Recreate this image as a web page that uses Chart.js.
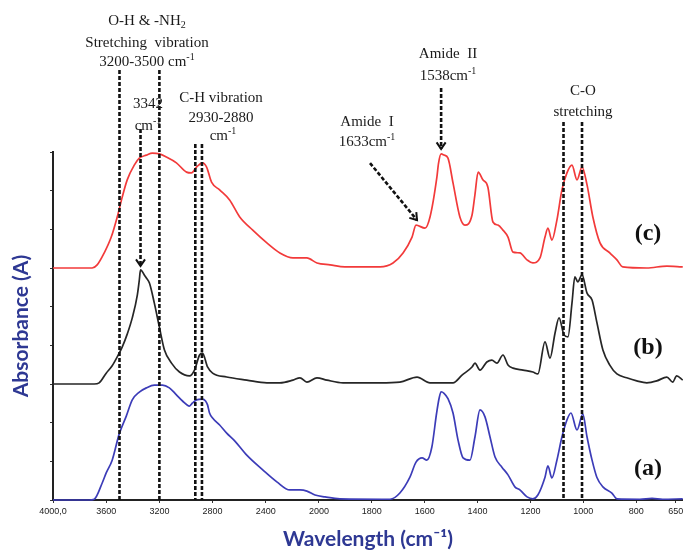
<!DOCTYPE html>
<html>
<head>
<meta charset="utf-8">
<title>FTIR spectra</title>
<style>
  html, body { margin: 0; padding: 0; background: #fff; }
  #wrap { width: 683px; height: 555px; position: relative; }
</style>
<script src="https://cdn.jsdelivr.net/npm/chart.js@4.4.1/dist/chart.umd.min.js"></script>
</head>
<body>
<div id="wrap"><canvas id="ftir" width="683" height="555"></canvas></div>
<script>
// ---- Spectra (wavenumber in cm-1, absorbance relative to each trace's own baseline) ----
const aWavenumber = [4000,3730,3690,3630,3600,3555,3502,3449,3404,3351,3298,3238,3177,3125,3072,3026,2974,2951,2921,2876,2853,2838,2823,2800,2747,2694,2634,2543,2423,2317,2219,2143,2091,2030,1977,1921,1731,1694,1656,1633,1610,1592,1573,1555,1545,1538,1527,1512,1493,1474,1455,1429,1410,1391,1372,1353,1334,1308,1285,1259,1240,1213,1191,1172,1145,1134,1119,1100,1081,1062,1047,1024,1002,986,967,949,926,892,873,786,740,700,624];
const aAbsorbance = [0,0,0.002,0.044,0.070,0.103,0.171,0.217,0.259,0.279,0.290,0.297,0.297,0.290,0.272,0.256,0.243,0.251,0.259,0.261,0.256,0.246,0.225,0.212,0.194,0.173,0.153,0.116,0.078,0.047,0.026,0.026,0.023,0.013,0.008,0.003,0.002,0.018,0.059,0.098,0.109,0.103,0.137,0.225,0.265,0.280,0.276,0.262,0.225,0.155,0.109,0.103,0.163,0.233,0.215,0.163,0.111,0.085,0.065,0.034,0.026,0.008,0.003,0.013,0.059,0.088,0.057,0.103,0.163,0.207,0.225,0.181,0.222,0.163,0.103,0.059,0.034,0.018,0.003,0.002,0.004,0.002,0.003];

const bWavenumber = [4000,3690,3653,3600,3555,3517,3479,3442,3404,3366,3351,3342,3310,3298,3275,3238,3200,3162,3109,3049,2974,2936,2898,2876,2838,2800,2694,2543,2392,2294,2196,2143,2091,2015,1970,1909,1769,1694,1629,1580,1493,1459,1421,1410,1391,1365,1346,1327,1304,1285,1266,1228,1191,1172,1145,1126,1107,1092,1073,1058,1043,1032,1021,1005,986,967,949,926,900,873,836,798,760,722,684,662,647,624];
const bAbsorbance = [0,0,0.003,0.028,0.047,0.070,0.096,0.129,0.171,0.230,0.269,0.295,0.280,0.274,0.261,0.209,0.147,0.088,0.054,0.031,0.021,0.036,0.075,0.080,0.044,0.028,0.018,0.010,0.003,0.003,0.010,0.016,0.005,0.016,0.010,0.003,0.003,0.005,0.018,0.003,0.003,0.023,0.044,0.054,0.036,0.057,0.062,0.054,0.075,0.049,0.041,0.036,0.031,0.026,0.109,0.067,0.132,0.171,0.127,0.122,0.209,0.277,0.264,0.282,0.235,0.217,0.160,0.088,0.049,0.026,0.016,0.008,0.003,0.008,0.018,0.005,0.021,0.010];

const cWavenumber = [4000,3706,3668,3615,3562,3517,3479,3442,3389,3351,3298,3253,3200,3147,3072,2996,2959,2921,2876,2845,2808,2747,2672,2596,2498,2392,2294,2196,2091,2015,1958,1902,1769,1720,1682,1648,1633,1599,1580,1554,1548,1538,1527,1512,1493,1467,1448,1421,1410,1398,1380,1361,1342,1323,1304,1285,1266,1240,1213,1191,1164,1145,1134,1119,1100,1081,1062,1043,1024,1005,986,964,937,900,873,851,760,684,635,624];
const cAbsorbance = [0,0,0.008,0.039,0.080,0.132,0.184,0.228,0.266,0.284,0.292,0.297,0.295,0.287,0.272,0.248,0.246,0.261,0.272,0.261,0.222,0.202,0.176,0.132,0.098,0.065,0.039,0.026,0.026,0.013,0.008,0.003,0.003,0.013,0.039,0.080,0.111,0.103,0.132,0.235,0.270,0.295,0.292,0.284,0.220,0.132,0.111,0.137,0.190,0.248,0.228,0.209,0.119,0.111,0.098,0.080,0.041,0.039,0.021,0.013,0.026,0.080,0.103,0.072,0.124,0.202,0.246,0.266,0.228,0.261,0.215,0.132,0.065,0.039,0.021,0.003,0,0.005,0.003,0.003];

// Vertical stacking of the three traces and their names
const traceNames = ['(a)', '(b)', '(c)'];
const traceOffsets = [0, 0.3, 0.6];
const traceColors = ['#3c3cb8', '#262626', '#f23a3a'];

// Axis ticks
const xTickValues = [4000, 3600, 3200, 2800, 2400, 2000, 1800, 1600, 1400, 1200, 1000, 800, 650];
const yTickStep = 0.1;

// Band markers (cm-1)
const ohRange = [3500, 3200];
const chRange = [2930, 2880];
const coLines = [1075, 1005];
const ohPeak = 3342;
const amideI = 1633;
const amideII = 1538;

// ---- Wavenumber axis with the usual FTIR scale change at 2000 cm-1 ----
const X_MAX = 4000, X_BREAK = 2000, X_MIN = 623, BREAK_FRAC = 0.4222;
function wnToDecimal(v) {
  if (v >= X_BREAK) return (X_MAX - v) / (X_MAX - X_BREAK) * BREAK_FRAC;
  return BREAK_FRAC + (X_BREAK - v) / (X_BREAK - X_MIN) * (1 - BREAK_FRAC);
}
function decimalToWn(d) {
  if (d <= BREAK_FRAC) return X_MAX - d / BREAK_FRAC * (X_MAX - X_BREAK);
  return X_BREAK - (d - BREAK_FRAC) / (1 - BREAK_FRAC) * (X_BREAK - X_MIN);
}
class WavenumberScale extends Chart.LinearScale {
  static id = 'wavenumber';
  static defaults = Chart.LinearScale.defaults;
  getPixelForValue(v) {
    return v === null || v === undefined ? NaN : this.getPixelForDecimal(wnToDecimal(v));
  }
  getValueForPixel(p) {
    return decimalToWn(this.getDecimalForPixel(p));
  }
  getPadding() {
    return { left: 0, right: 0, top: 0, bottom: 0 };
  }
}
Chart.register(WavenumberScale);

function toPoints(wn, abs, offset) {
  return wn.map((w, i) => ({ x: w, y: abs[i] + offset }));
}
const series = [
  [aWavenumber, aAbsorbance],
  [bWavenumber, bAbsorbance],
  [cWavenumber, cAbsorbance]
];
const datasets = series.map(([wn, abs], i) => ({
  label: traceNames[i],
  data: toPoints(wn, abs, traceOffsets[i]),
  borderColor: traceColors[i],
  borderWidth: 1.7,
  pointRadius: 0,
  fill: false,
  cubicInterpolationMode: 'monotone',
  clip: false
}));

// ---- Text helpers for the band labels ----
const SERIF = '"Liberation Serif", "Times New Roman", serif';
function drawRuns(ctx, runs, cx, baseline, size, weight) {
  const fontFor = (k) => `${weight || 'normal'} ${k ? Math.round(size * 0.66) : size}px ${SERIF}`;
  let total = 0;
  runs.forEach(([t, k]) => { ctx.font = fontFor(k); total += ctx.measureText(t).width; });
  let x = cx - total / 2;
  ctx.textAlign = 'left';
  ctx.textBaseline = 'alphabetic';
  runs.forEach(([t, k]) => {
    ctx.font = fontFor(k);
    const dy = k === 'sup' ? -size * 0.4 : (k === 'sub' ? size * 0.22 : 0);
    ctx.fillText(t, x, baseline + dy);
    x += ctx.measureText(t).width;
  });
}
function dashedLine(ctx, x1, y1, x2, y2) {
  ctx.save();
  ctx.strokeStyle = '#111';
  ctx.lineWidth = 2.6;
  ctx.setLineDash([4, 2]);
  ctx.beginPath();
  ctx.moveTo(x1, y1);
  ctx.lineTo(x2, y2);
  ctx.stroke();
  ctx.restore();
}
function arrowHead(ctx, x1, y1, x2, y2) {
  const ang = Math.atan2(y2 - y1, x2 - x1);
  const len = 8, spread = 0.6;
  ctx.save();
  ctx.strokeStyle = '#111';
  ctx.lineWidth = 2;
  ctx.setLineDash([]);
  ctx.beginPath();
  ctx.moveTo(x2 - len * Math.cos(ang - spread), y2 - len * Math.sin(ang - spread));
  ctx.lineTo(x2, y2);
  ctx.lineTo(x2 - len * Math.cos(ang + spread), y2 - len * Math.sin(ang + spread));
  ctx.stroke();
  ctx.restore();
}

const bandMarkers = {
  id: 'bandMarkers',
  afterDatasetsDraw(chart) {
    const { ctx, scales: { x, y } } = chart;
    const bottom = y.getPixelForValue(0);
    ctx.save();

    // dashed band boundaries
    ohRange.forEach(w => dashedLine(ctx, x.getPixelForValue(w), 70, x.getPixelForValue(w), bottom));
    chRange.forEach(w => dashedLine(ctx, x.getPixelForValue(w), 144, x.getPixelForValue(w), bottom));
    coLines.forEach(w => dashedLine(ctx, x.getPixelForValue(w), 122, x.getPixelForValue(w), bottom));

    // O-H peak arrow onto trace (b)
    const ohX = x.getPixelForValue(ohPeak);
    const ohTip = y.getPixelForValue(traceOffsets[1] + 0.295) - 4;
    dashedLine(ctx, ohX, 129, ohX, ohTip);
    arrowHead(ctx, ohX, 129, ohX, ohTip);

    // Amide II arrow onto trace (c)
    const a2X = x.getPixelForValue(amideII);
    const a2Tip = y.getPixelForValue(traceOffsets[2] + 0.295) - 5;
    dashedLine(ctx, a2X, 88, a2X, a2Tip);
    arrowHead(ctx, a2X, 88, a2X, a2Tip);

    // Amide I oblique arrow onto the shoulder of trace (c)
    const a1X = x.getPixelForValue(amideI) + 1;
    const a1Y = y.getPixelForValue(traceOffsets[2] + 0.111) - 5;
    dashedLine(ctx, a1X - 47, a1Y - 57, a1X, a1Y);
    arrowHead(ctx, a1X - 47, a1Y - 57, a1X, a1Y);

    // labels
    ctx.fillStyle = '#1a1a1a';
    drawRuns(ctx, [['O-H & -NH'], ['2', 'sub']], 147, 25, 15);
    drawRuns(ctx, [['Stretching  vibration']], 147, 47, 15);
    drawRuns(ctx, [['3200-3500 cm'], ['-1', 'sup']], 147, 66, 15);
    drawRuns(ctx, [['3342']], 148, 108, 15);
    drawRuns(ctx, [['cm'], ['-1', 'sup']], 148, 130, 15);
    drawRuns(ctx, [['C-H vibration']], 221, 102, 15);
    drawRuns(ctx, [['2930-2880']], 221, 122, 15);
    drawRuns(ctx, [['cm'], ['-1', 'sup']], 223, 140, 15);
    drawRuns(ctx, [['Amide  II']], 448, 58, 15);
    drawRuns(ctx, [['1538cm'], ['-1', 'sup']], 448, 80, 15);
    drawRuns(ctx, [['Amide  I']], 367, 126, 15);
    drawRuns(ctx, [['1633cm'], ['-1', 'sup']], 367, 146, 15);
    drawRuns(ctx, [['C-O']], 583, 95, 15);
    drawRuns(ctx, [['stretching']], 583, 116, 15);

    // trace names
    ctx.fillStyle = '#111';
    [467, 346, 232].forEach((cy, i) => drawRuns(ctx, [[traceNames[i]]], 648, cy + 8, 24, 'bold'));
    ctx.restore();
  }
};

const TITLE_BLUE = '#2e3893';
new Chart(document.getElementById('ftir'), {
  type: 'line',
  data: { datasets },
  plugins: [bandMarkers],
  options: {
    responsive: false,
    animation: false,
    events: [],
    layout: { padding: { top: 152, left: 0, right: 0, bottom: 0 } },
    plugins: { legend: { display: false }, tooltip: { enabled: false } },
    scales: {
      x: {
        type: 'wavenumber',
        min: X_MIN,
        max: X_MAX,
        afterBuildTicks: (s) => { s.ticks = xTickValues.map(v => ({ value: v })); },
        afterFit: (s) => { s.height = 55; },
        ticks: {
          autoSkip: false,
          maxRotation: 0,
          padding: 3,
          color: '#222',
          font: { family: '"Liberation Sans", Arial, sans-serif', size: 9 },
          callback: (v) => (v === 4000 ? '4000,0' : String(v))
        },
        grid: { drawOnChartArea: false, drawTicks: true, tickLength: 3, color: '#333' },
        border: { display: true, color: '#222', width: 2 },
        title: {
          display: true,
          text: 'Wavelength (cm⁻¹)',
          color: TITLE_BLUE,
          font: { family: 'Lato, "Open Sans", sans-serif', size: 21, weight: 'bold' },
          padding: { top: 0, bottom: 3 }
        }
      },
      y: {
        min: 0,
        max: 0.9,
        afterFit: (s) => { s.width = 53; },
        ticks: { display: false, stepSize: yTickStep },
        grid: { drawOnChartArea: false, drawTicks: true, tickLength: 3, color: '#333' },
        border: { display: true, color: '#222', width: 2 },
        title: {
          display: true,
          text: 'Absorbance (A)',
          color: TITLE_BLUE,
          font: { family: 'Lato, "Open Sans", sans-serif', size: 21, weight: 'bold' },
          padding: { top: 9, bottom: 0 }
        }
      }
    }
  }
});
</script>
</body>
</html>
